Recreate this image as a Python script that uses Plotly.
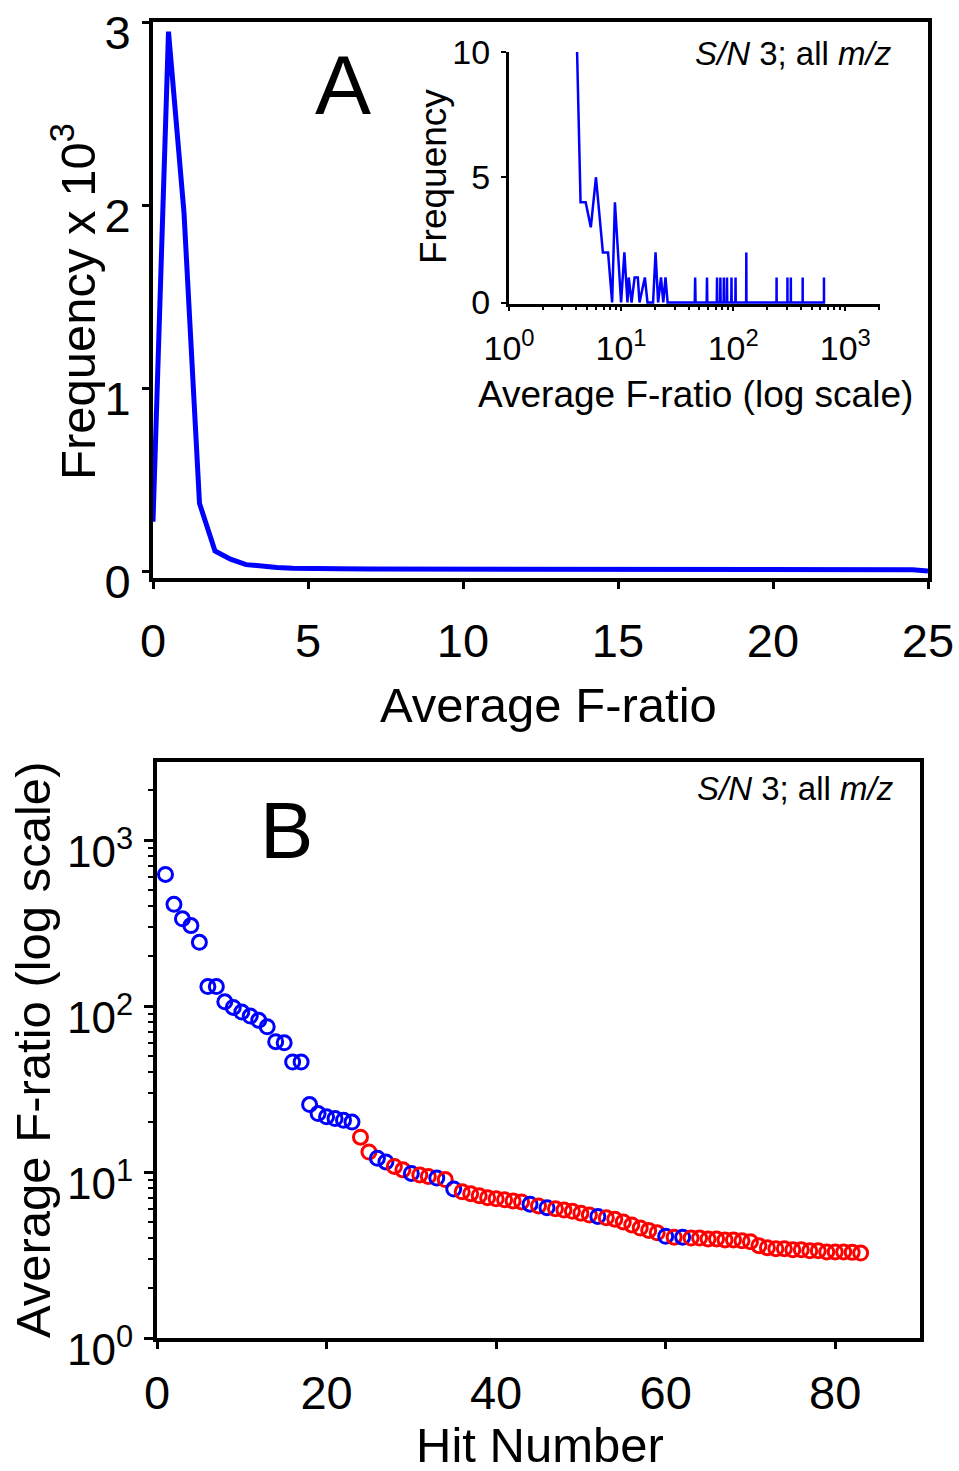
import plotly.graph_objects as go

# ---------------- data ----------------
# Panel A: histogram of average F-ratio (frequency in thousands)
hist_f = [0, 0.5, 1.0, 1.5, 2.0, 2.5, 3.0, 3.5, 4.0, 4.5, 5, 6, 7, 8, 9, 10, 11, 12, 13, 14,
          15, 16, 17, 18, 19, 20, 21, 22, 23, 24, 24.5, 25]
hist_freq_k = [0.27, 2.95, 1.96, 0.37, 0.11, 0.065, 0.035, 0.025, 0.02, 0.016, 0.013, 0.012,
               0.011, 0.011, 0.010, 0.010, 0.010, 0.009, 0.009, 0.009, 0.009, 0.009, 0.008,
               0.008, 0.008, 0.008, 0.008, 0.008, 0.008, 0.008, 0.007, 0.0]

# Inset: histogram on log scale (counts)
inset_f = [4.05, 4.35, 4.83, 5.37, 5.97, 6.88, 7.65, 8.32, 8.81, 10.0, 10.7, 11.4, 11.7, 12.4,
           13.2, 14.1, 14.6, 16.3, 17.2, 19.3, 20.3, 21.4, 22.7, 23.8, 24.9, 26.0,
           45.4, 45.8, 46.2, 58.0, 58.4, 58.8, 71.4, 71.8, 72.2, 76.5, 76.9, 77.3,
           82.2, 82.6, 83.0, 87.7, 88.1, 88.5, 96.2, 96.6, 97.0, 104.6, 105, 105.4,
           130.6, 131, 131.4, 243.6, 244, 244.4, 304.6, 305, 305.4, 326.6, 327, 327.4,
           416.6, 417, 417.4, 645.6, 646, 646.4]
inset_count = [10, 4, 4, 3, 5, 2, 2, 0, 4, 0, 2, 0, 1, 0,
               1, 1, 0, 1, 0, 0, 2, 0, 1, 0, 1, 0,
               0, 1, 0, 0, 1, 0, 0, 1, 0, 0, 1, 0,
               0, 1, 0, 0, 1, 0, 0, 1, 0, 0, 1, 0,
               0, 2, 0, 0, 1, 0, 0, 1, 0, 0, 1, 0,
               0, 1, 0, 0, 1, 0]

# Panel B: ranked hits
hit_number = list(range(1, 84))
hit_fratio = [620, 410, 335, 305, 242, 131, 131, 106, 98, 92, 87, 82, 75, 61, 60, 46, 46,
              25.5, 22.5, 21.5, 21, 20.5, 20, 16.2, 13.2, 12.1, 11.5, 10.8, 10.3, 9.8, 9.6,
              9.4, 9.2, 9.0, 7.9, 7.6, 7.4, 7.2, 7.0, 6.9, 6.8, 6.7, 6.6, 6.4, 6.25, 6.1,
              6.0, 5.9, 5.8, 5.65, 5.5, 5.4, 5.3, 5.2, 5.0, 4.8, 4.6, 4.45, 4.3, 4.1, 4.05,
              4.05, 4.0, 4.0, 3.95, 3.95, 3.9, 3.9, 3.85, 3.8, 3.6, 3.5, 3.45, 3.45, 3.4,
              3.4, 3.35, 3.35, 3.3, 3.3, 3.3, 3.28, 3.25]
hit_group = (["b"] * 23 + ["r", "r", "b", "b", "r", "r", "b", "r", "r", "b", "r", "b"]
             + ["r"] * 8 + ["b", "r", "b"] + ["r"] * 5 + ["b"] + ["r"] * 7
             + ["b", "r", "b"] + ["r"] * 21)

group_colors = {"b": "#0000ff", "r": "#ff0000"}

# ---------------- layout helpers ----------------
W, H = 959, 1471
def px(x):
    return x / W
def py(y):
    return 1 - y / H

FONT = "Liberation Sans, Arial, Helvetica, sans-serif"
TICK = 47
TITLE = 49
SMALL = 34
SMALL_TITLE = 37

fig = go.Figure()

fig.add_trace(go.Scatter(x=hist_f, y=hist_freq_k, mode="lines",
                         line=dict(color="#0000ff", width=5), xaxis="x", yaxis="y",
                         showlegend=False))
fig.add_trace(go.Scatter(x=inset_f, y=inset_count, mode="lines",
                         line=dict(color="#0000ff", width=2.5), xaxis="x2", yaxis="y2",
                         showlegend=False))
fig.add_trace(go.Scatter(x=hit_number, y=hit_fratio, mode="markers",
                         marker=dict(symbol="circle-open", size=14,
                                     color=[group_colors[g] for g in hit_group],
                                     line=dict(width=3)),
                         xaxis="x3", yaxis="y3", showlegend=False))

axis_common = dict(showline=True, linecolor="black", showgrid=False, zeroline=False,
                   automargin=False, ticks="outside", tickcolor="black",
                   ticklabeloverflow="allow",
                   tickfont=dict(family=FONT, size=TICK, color="black"))

log_minor = [m * 10 ** e for e in range(0, 4) for m in range(2, 10)]

fig.update_layout(
    width=W, height=H, autosize=False,
    margin=dict(l=0, r=0, t=0, b=0, pad=0, autoexpand=False),
    paper_bgcolor="white", plot_bgcolor="white",
    font=dict(family=FONT, color="black"),
    # Panel A main
    xaxis=dict(**axis_common, domain=[px(153), px(928)], range=[0, 25], anchor="y",
               tickvals=[0, 5, 10, 15, 20, 25], linewidth=4, ticklen=7, tickwidth=3,
               mirror=True, ticklabelstandoff=12, layer="below traces"),
    yaxis=dict(**axis_common, domain=[py(578), py(22)], range=[-0.038, 3.003], anchor="x",
               tickvals=[0, 1, 2, 3], linewidth=4, ticklen=7, tickwidth=3,
               mirror=True, ticklabelstandoff=2, ticklabelshift=10, layer="below traces"),
    # Inset
    xaxis2=dict(showline=True, linecolor="black", showgrid=False, zeroline=False,
                automargin=False, ticklabeloverflow="allow",
                type="log", domain=[px(509), px(880)], range=[0, 3.31], anchor="y2",
                tickvals=[1, 10, 100, 1000],
                ticktext=["10<sup>0</sup>", "10<sup>1</sup>", "10<sup>2</sup>", "10<sup>3</sup>"],
                ticks="outside", ticklen=4, tickwidth=2, tickcolor="black", linewidth=3,
                minor=dict(tickvals=log_minor, ticks="outside", ticklen=3, tickwidth=2,
                           tickcolor="black", showgrid=False),
                tickfont=dict(family=FONT, size=SMALL, color="black"),
                ticklabelstandoff=8, layer="below traces"),
    yaxis2=dict(showline=True, linecolor="black", showgrid=False, zeroline=False,
                automargin=False, ticklabeloverflow="allow",
                domain=[py(304), py(52)], range=[-0.06, 10], anchor="x2",
                tickvals=[0, 5, 10], ticks="outside", ticklen=5, tickwidth=2,
                tickcolor="black", linewidth=3,
                tickfont=dict(family=FONT, size=SMALL, color="black"),
                ticklabelstandoff=4, layer="below traces"),
    # Panel B
    xaxis3=dict(**axis_common, domain=[px(157), px(920)], range=[0, 90], anchor="y3",
                tickvals=[0, 20, 40, 60, 80], linewidth=4, ticklen=7, tickwidth=3,
                mirror=True, ticklabelstandoff=4),
    yaxis3=dict(showline=True, linecolor="black", showgrid=False, zeroline=False,
                automargin=False, ticklabeloverflow="allow",
                type="log", domain=[py(1338), py(762)], range=[0, 3.47], anchor="x3",
                tickvals=[1, 10, 100, 1000],
                ticktext=["10<sup>0</sup>", "10<sup>1</sup>", "10<sup>2</sup>", "10<sup>3</sup>"],
                ticks="outside", ticklen=9, tickwidth=3, tickcolor="black", linewidth=4,
                mirror=True,
                minor=dict(tickvals=log_minor, ticks="outside", ticklen=5, tickwidth=2,
                           tickcolor="black", showgrid=False),
                tickfont=dict(family=FONT, size=TICK - 3, color="black"),
                ticklabelstandoff=2, ticklabelshift=12),
)

def ann(text, x, y, size, angle=0):
    fig.add_annotation(text=text, x=px(x), y=py(y), xref="paper", yref="paper",
                       showarrow=False, textangle=angle, xanchor="center", yanchor="middle",
                       font=dict(family=FONT, size=size, color="black"))

ann("Frequency x 10<sup>3</sup>", 74, 302, TITLE, -90)
ann("Average F-ratio", 548, 705, TITLE)
ann("Frequency", 433, 177, SMALL_TITLE, -90)
ann("Average F-ratio (log scale)", 695, 394, SMALL_TITLE)
ann("Average F-ratio (log scale)", 33, 1050, TITLE, -90)
ann("Hit Number", 540, 1445, TITLE)
ann("A", 343, 85, 84)
ann("B", 286, 830, 80)
ann("<i>S/N</i> 3; all <i>m/z</i>", 793, 53, 33)
ann("<i>S/N</i> 3; all <i>m/z</i>", 795, 788, 33)

fig.write_html("out.html", config={"responsive": False})
